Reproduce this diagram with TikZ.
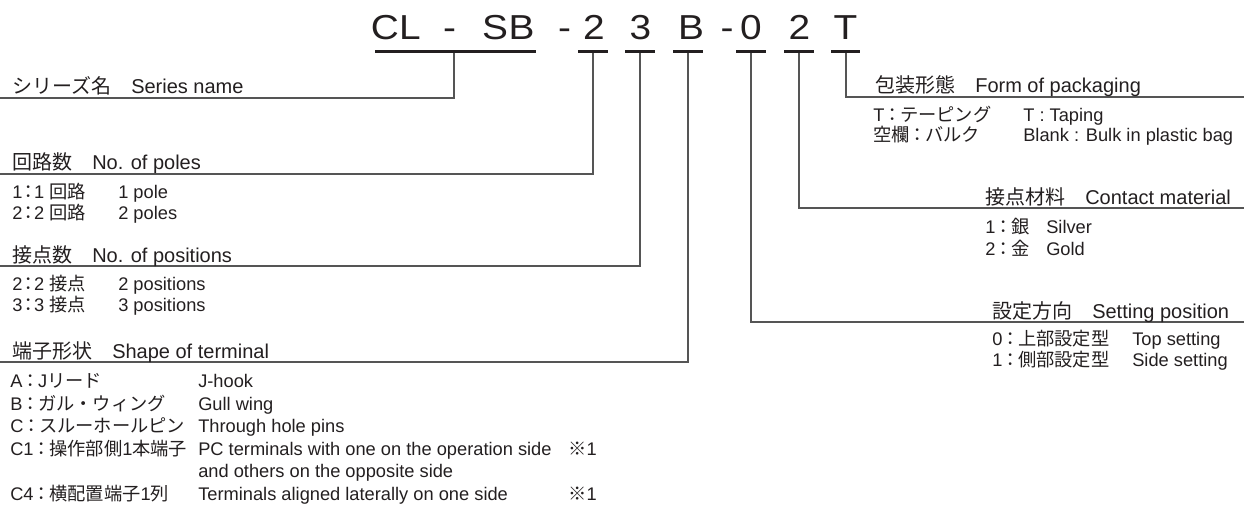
\documentclass[tikz,border=0pt]{standalone}
\usepackage{fontspec}
\setmainfont{Liberation Sans}
\newfontfamily\jp{Noto Sans CJK JP}
\definecolor{ink}{HTML}{231F20}
\definecolor{wire}{HTML}{555555}
\newcommand\jc[1][0pt]{\kern#1{\jp ：}\kern#1}
\tikzset{
  ttl/.style={font=\fontsize{26}{26}\selectfont, inner sep=0pt, anchor=base, text=ink},
  head/.style={font=\fontsize{15}{15}\selectfont, inner sep=0pt, anchor=base west, text=ink},
  item/.style={font=\fontsize{13.7}{13.7}\selectfont, inner sep=0pt, anchor=base west, text=ink},
  uline/.style={draw=ink, line width=2.4pt},
  conn/.style={draw=wire, line width=0.85pt}
}
\newcommand\tch[1]{\scalebox{1.12}[1]{#1}}
\begin{document}
\begin{tikzpicture}[x=0.75pt,y=-0.75pt]
\useasboundingbox (0,0) rectangle (1244,506);
% title characters
\node[ttl] (c1) at (385,40) {\tch{C}};
\node[ttl] (c2) at (410,40) {\tch{L}};
\node[ttl] (c3) at (449.5,40) {\tch{-}};
\node[ttl] (c4) at (495,40) {\tch{S}};
\node[ttl] (c5) at (521.5,40) {\tch{B}};
\node[ttl] (c6) at (564.5,40) {\tch{-}};
\node[ttl] (c7) at (594,40) {\tch{2}};
\node[ttl] (c8) at (640.5,40) {\tch{3}};
\node[ttl] (c9) at (691,40) {\tch{B}};
\node[ttl] (c10) at (727,40) {\tch{-}};
\node[ttl] (c11) at (751,40) {\tch{0}};
\node[ttl] (c12) at (799.5,40) {\tch{2}};
\node[ttl] (c13) at (845.5,40) {\tch{T}};
% underlines
\draw[uline] (375,51.5) -- (536,51.5);
\draw[uline] (578,51.5) -- (608,51.5);
\draw[uline] (625,51.5) -- (655,51.5);
\draw[uline] (673,51.5) -- (703,51.5);
\draw[uline] (736,51.5) -- (766,51.5);
\draw[uline] (784,51.5) -- (814,51.5);
\draw[uline] (831,51.5) -- (860,51.5);
% connector end points
\coordinate (uSer) at (454,53);
\coordinate (uPol) at (593,53);
\coordinate (uPos) at (640,53);
\coordinate (uTer) at (688,53);
\coordinate (uSet) at (751,53);
\coordinate (uMat) at (799,53);
\coordinate (uPak) at (846,53);
\coordinate (lSer) at (0,98);
\coordinate (lPol) at (0,174);
\coordinate (lPos) at (0,266);
\coordinate (lTer) at (0,362);
\coordinate (lSet) at (1244,322);
\coordinate (lMat) at (1244,208);
\coordinate (lPak) at (1244,97);
\draw[conn] (uSer) |- (lSer);
\draw[conn] (uPol) |- (lPol);
\draw[conn] (uPos) |- (lPos);
\draw[conn] (uTer) |- (lTer);
\draw[conn] (uSet) |- (lSet);
\draw[conn] (uMat) |- (lMat);
\draw[conn] (uPak) |- (lPak);
% headings
\node[head] (hSer) at (12,94) {{\jp シリーズ名　}Series name};
\node[head] (hPol) at (12,170) {{\jp 回路数　}No. of poles};
\node[head] (hPos) at (12,262) {{\jp 接点数　}No. of positions};
\node[head] (hTer) at (12,358) {{\jp 端子形状　}Shape of terminal};
\node[head] (hPak) at (875,93) {{\jp 包装形態　}Form of packaging};
\node[head] (hMat) at (985,204) {{\jp 接点材料　}Contact material};
\node[head] (hSet) at (992,318) {{\jp 設定方向　}Setting position};
% poles
\node[item] (p1j) at (12,198) {1\jc[-2.5pt]1\kern4pt{\jp 回路}};
\node[item] (p1e) at (118,198) {1 pole};
\node[item] (p2j) at (12,219) {2\jc[-2.5pt]2\kern4pt{\jp 回路}};
\node[item] (p2e) at (118,219) {2 poles};
% positions
\node[item] (q1j) at (12,290) {2\jc[-2.5pt]2\kern4pt{\jp 接点}};
\node[item] (q1e) at (118,290) {2 positions};
\node[item] (q2j) at (12,311) {3\jc[-2.5pt]3\kern4pt{\jp 接点}};
\node[item] (q2e) at (118,311) {3 positions};
% terminal
\node[item] (t1j) at (10,387) {A\jc[-1pt]J{\jp リード}};
\node[item] (t1e) at (198,387) {J-hook};
\node[item] (t2j) at (10,410) {B\jc[-1pt]{\jp ガル・ウィング}};
\node[item] (t2e) at (198,410) {Gull wing};
\node[item] (t3j) at (10,432) {C\jc[-1pt]{\jp スルーホールピン}};
\node[item] (t3e) at (198,432) {Through hole pins};
\node[item] (t4j) at (10,455) {C1\jc[-1pt]{\jp 操作部側}1{\jp 本端子}};
\node[item] (t4e) at (198,455) {PC terminals with one on the operation side};
\node[item] (t4n) at (568,455) {{\jp ※}1};
\node[item] (t5e) at (198,477) {and others on the opposite side};
\node[item] (t6j) at (10,500) {C4\jc[-1pt]{\jp 横配置端子}1{\jp 列}};
\node[item] (t6e) at (198,500) {Terminals aligned laterally on one side};
\node[item] (t6n) at (568,500) {{\jp ※}1};
% packaging
\node[item] (k1j) at (873,122) {T\jc[-1pt]{\jp テーピング}};
\node[item] (k1e) at (1023,122) {T : Taping};
\node[item] (k2j) at (873,142) {{\jp 空欄}\jc[-1pt]{\jp バルク}};
\node[item] (k2e) at (1023,142) {Blank : Bulk in plastic bag};
% material
\node[item] (m1j) at (985,233) {1\jc[-1pt]{\jp 銀}};
\node[item] (m1e) at (1046,233) {Silver};
\node[item] (m2j) at (985,255) {2\jc[-1pt]{\jp 金}};
\node[item] (m2e) at (1046,255) {Gold};
% setting
\node[item] (s1j) at (992,345) {0\jc[-1pt]{\jp 上部設定型}};
\node[item] (s1e) at (1132,345) {Top setting};
\node[item] (s2j) at (992,366) {1\jc[-1pt]{\jp 側部設定型}};
\node[item] (s2e) at (1132,366) {Side setting};
\end{tikzpicture}
\end{document}
